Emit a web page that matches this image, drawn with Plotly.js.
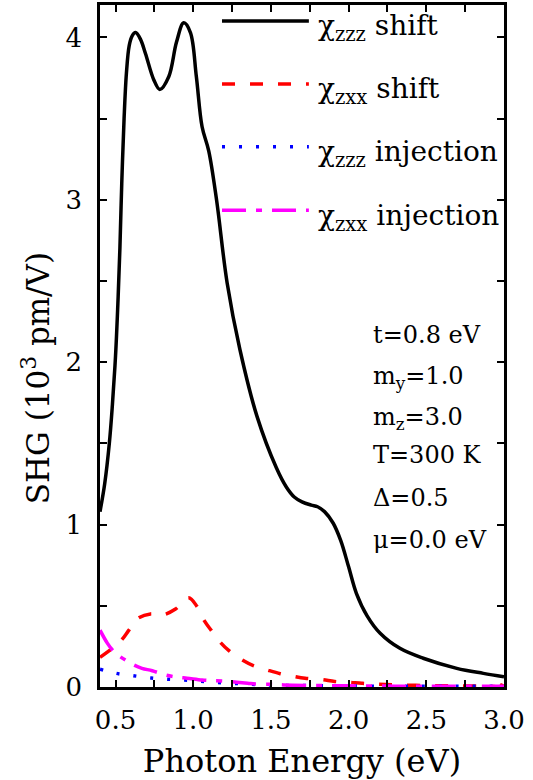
<!DOCTYPE html>
<html>
<head>
<meta charset="utf-8">
<script src="https://cdn.plot.ly/plotly-3.0.1.min.js"></script>
<style>html,body{margin:0;padding:0;background:#fff;}#chart{width:533px;height:780px;}</style>
</head>
<body>
<div id="chart"></div>
<script>
// ---- data (photon energy in eV, SHG in 10^3 pm/V) ----
var zzzShiftE = [0.40,0.43,0.46,0.48,0.50,0.515,0.528,0.54,0.555,0.57,0.588,0.607,0.629,0.66,0.693,0.746,0.785,0.843,0.892,0.939,0.982,1.02,1.057,1.10,1.15,1.218,1.30,1.411,1.535,1.60,1.65,1.70,1.76,1.80,1.845,1.90,1.95,2.0,2.05,2.118,2.203,2.33,2.48,2.696,2.867,3.0];
var zzzShiftV = [1.08,1.25,1.50,1.74,2.04,2.36,2.70,3.10,3.50,3.78,3.95,4.01,4.03,3.99,3.90,3.74,3.68,3.76,3.97,4.09,4.03,3.76,3.45,3.30,3.00,2.49,2.08,1.665,1.35,1.23,1.17,1.14,1.12,1.11,1.08,1.01,0.90,0.74,0.577,0.44,0.331,0.238,0.177,0.115,0.084,0.063];

var zxxShiftE = [0.40,0.53,0.586,0.64,0.725,0.77,0.81,0.886,0.97,1.025,1.07,1.117,1.17,1.23,1.315,1.39,1.475,1.56,1.65,1.72,1.83,1.91,2.0,2.085,2.18,2.3,2.5,2.7,2.9,2.98,3.0];
var zxxShiftV = [0.183,0.28,0.35,0.42,0.45,0.445,0.445,0.48,0.55,0.495,0.41,0.347,0.28,0.224,0.166,0.13,0.105,0.082,0.065,0.054,0.045,0.034,0.029,0.023,0.018,0.013,0.009,0.007,0.006,0.006,0.095];

var zzzInjE = [0.40,0.505,0.61,0.714,0.82,0.93,1.036,1.14,1.25,1.357,1.46,1.6,1.8,2.0,2.3,2.6,3.0];
var zzzInjV = [0.109,0.084,0.07,0.057,0.049,0.043,0.037,0.029,0.023,0.018,0.013,0.010,0.008,0.006,0.005,0.004,0.004];

var zxxInjE = [0.40,0.447,0.48,0.53,0.618,0.67,0.736,0.82,0.9,0.96,1.057,1.12,1.186,1.28,1.35,1.4,1.5,1.58,1.8,2.0,2.3,2.6,3.0];
var zxxInjV = [0.35,0.27,0.228,0.187,0.136,0.115,0.1,0.074,0.06,0.054,0.043,0.039,0.037,0.029,0.023,0.018,0.017,0.013,0.009,0.007,0.005,0.004,0.004];

var seriesNames = ['χ<sub>zzz</sub> shift','χ<sub>zxx</sub> shift','χ<sub>zzz</sub> injection','χ<sub>zxx</sub> injection'];
var paramLines = ['t=0.8 eV','m<sub>y</sub>=1.0','m<sub>z</sub>=3.0','T=300 K','Δ=0.5','μ=0.0 eV'];
var xTitle = 'Photon Energy (eV)';
var yTitle = 'SHG (10<sup>3</sup> pm/V)';

// ---- styles ----
var FONT = 'DejaVu Serif';
var colors = ['#000000','#ff0000','#0000ff','#ff00ff'];
var dashes = ['solid','13px,15px','3px,14px','24px,10px,6px,10px'];
var xs = [zzzShiftE, zxxShiftE, zzzInjE, zxxInjE];
var ys = [zzzShiftV, zxxShiftV, zzzInjV, zxxInjV];

var traces = xs.map(function(x, i){
  return {
    x: x, y: ys[i], type: 'scatter', mode: 'lines', name: seriesNames[i],
    line: {color: colors[i], width: 3.5, dash: dashes[i], shape: 'spline', smoothing: 1.0},
    showlegend: false, hoverinfo: 'skip'
  };
});

// custom legend with long line samples, as in the original
var legRowY = [0.9765, 0.884, 0.792, 0.699];
var shapes = [];
var annotations = [];
legRowY.forEach(function(yy, i){
  shapes.push({type:'line', xref:'paper', yref:'paper', x0:0.302, x1:0.517, y0:yy, y1:yy,
               line:{color:colors[i], width:3.5, dash:dashes[i]}});
  annotations.push({xref:'paper', yref:'paper', x:0.535, y:yy-0.01, xanchor:'left', yanchor:'middle',
               text: seriesNames[i], showarrow:false, font:{family:FONT, size:28, color:'#000'}});
});

var paramY = [335, 372, 413, 455, 498, 540];
paramLines.forEach(function(t, i){
  var hasSub = t.indexOf('<sub>') >= 0;
  annotations.push({xref:'paper', yref:'paper', x:0.672, y:(687 - paramY[i])/682 - (hasSub ? 0.008 : 0),
    xanchor:'left', yanchor:'middle', text:t, showarrow:false,
    font:{family:FONT, size:24, color:'#000'}});
});

// y-axis title, placed below the axis centre like the original
annotations.push({xref:'paper', yref:'paper', x:-0.158, y:0.453, xanchor:'center', yanchor:'middle',
  textangle:-90, text:yTitle, showarrow:false, font:{family:FONT, size:31, color:'#000'}});

var axisCommon = {
  showline: true, linecolor: '#000', linewidth: 2.5, mirror: 'allticks',
  ticks: 'inside', ticklen: 7, tickwidth: 2, tickcolor: '#000',
  showgrid: false, zeroline: false,
  tickfont: {family: FONT, size: 26, color: '#000'}
};

var layout = {
  width: 533, height: 780,
  margin: {l: 100, r: 29, t: 5, b: 93},
  paper_bgcolor: '#fff', plot_bgcolor: '#fff',
  showlegend: false,
  font: {family: FONT, color: '#000'},
  xaxis: Object.assign({}, axisCommon, {
    range: [0.4, 3.0], tick0: 0.5, dtick: 0.5, tickformat: '.1f', ticklabelstandoff: 8,
    minor: {tick0: 0.5, dtick: 0.25, ticks: 'inside', ticklen: 7, tickwidth: 2, tickcolor: '#000'},
    title: {text: xTitle, font: {family: FONT, size: 32, color: '#000'}, standoff: 16}
  }),
  yaxis: Object.assign({}, axisCommon, {
    range: [0, 4.2], tick0: 0, dtick: 1, ticklabelstandoff: 10,
    minor: {tick0: 0, dtick: 0.5, ticks: 'inside', ticklen: 7, tickwidth: 2, tickcolor: '#000'}
  }),
  shapes: shapes,
  annotations: annotations
};

Plotly.newPlot('chart', traces, layout, {displayModeBar: false});
</script>
</body>
</html>
